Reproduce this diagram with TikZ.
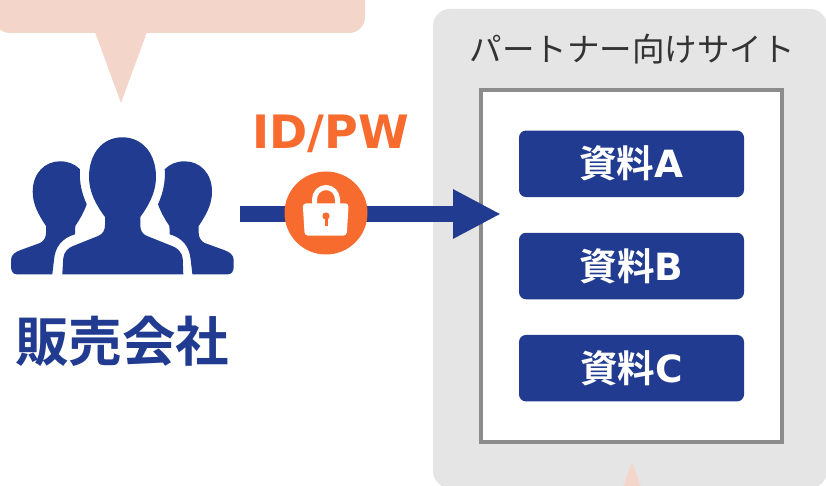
\documentclass[tikz,border=0pt]{standalone}
\usepackage{fontspec}
\setmainfont{Noto Sans CJK JP}
\newfontfamily\jpreg{Noto Sans CJK JP}[Scale=1]
\newfontfamily\jpbold{Noto Sans CJK JP Bold}
\newfontfamily\latbold{DejaVu Sans Bold}
\usetikzlibrary{arrows.meta}
\definecolor{navy}{HTML}{203B8F}
\definecolor{orng}{HTML}{F76B2E}
\definecolor{pnk}{HTML}{F4D5C9}
\definecolor{panel}{HTML}{E5E5E5}
\definecolor{frm}{HTML}{8C8C8C}
\tikzset{
  docbox/.style={fill=navy,rounded corners=7pt,minimum width=225pt,minimum height=66.5pt,inner sep=0pt,text=white,font=\fontsize{37.5}{37.5}\selectfont},
  person/.style={fill=navy},
}
\newcommand{\sideperson}{%
  (52.3,274.3) -- (16.7,274.3) .. controls (13,274.3) and (11,271) .. (11,266.7)
  -- (11,260) .. controls (11,255) and (15,252) .. (20.7,250)
  -- (40,243) .. controls (44,241) and (46,237) .. (46,233)
  -- (46,226) .. controls (38,214) and (32.7,204) .. (32.7,191.7)
  .. controls (32.7,173) and (45,161.3) .. (60,161.3)
  .. controls (68,161.3) and (75,164) .. (80,169.3)
  .. controls (79,182) and (82,194) .. (86.7,204.3)
  .. controls (84,212) and (80,219) .. (75.3,226)
  -- (75,234.3) .. controls (62,238) and (55,247) .. (54,260) -- cycle}
\begin{document}
\begin{tikzpicture}[x=1pt,y=-1pt]
\clip (0,0) rectangle (826,486);
\fill[white] (0,0) rectangle (826,486);
% speech bubble above the people
\fill[pnk,rounded corners=16pt] (-6,-40) rectangle (365,33);
\fill[pnk] (95,32) -- (121,103) -- (147,32) -- cycle;
% site panel
\fill[panel,rounded corners=17pt] (433,9) rectangle (827,488);
\fill[pnk] (632,462) -- (622,490) -- (642,490) -- cycle;
\node[font=\jpreg\fontsize{32.5}{32.5}\selectfont,text=black!80,inner sep=0pt] (title) at (632,49.5) {パートナー向けサイト};
\node[draw=frm,line width=4pt,fill=white,minimum width=301pt,minimum height=352pt,inner sep=0pt] (site) at (631.8,266) {};
\node[docbox] (a) at (631.5,163.8) {\raisebox{-3pt}{\jpbold 資料\latbold A}};
\node[docbox] (b) at (631.5,266) {\raisebox{-3pt}{\jpbold 資料\latbold B}};
\node[docbox] (c) at (631.5,368.2) {\raisebox{-3pt}{\jpbold 資料\latbold C}};
% people
\fill[person] (62.3,274.3) -- (63.3,258) .. controls (64,252) and (68,248) .. (73,246)
  -- (98,236) .. controls (103,234) and (105,230) .. (105,225)
  -- (105,217) .. controls (96,205) and (89,192) .. (89,177)
  .. controls (89,153) and (103,137.3) .. (122.3,137.3)
  .. controls (142,137.3) and (156,153) .. (156,177)
  .. controls (156,192) and (149,205) .. (140.3,217)
  -- (140.3,225) .. controls (140.3,230) and (142,234) .. (147,236)
  -- (172,246) .. controls (178,248) and (182,253) .. (182.7,258)
  -- (183.3,274.3) -- cycle;
\fill[person] \sideperson;
\begin{scope}[xshift=244.7pt,xscale=-1]
\fill[person] \sideperson;
\end{scope}
\node[font=\jpbold\fontsize{53.5}{53.5}\selectfont,text=navy,inner sep=0pt] (people) at (122,341) {販売会社};
% connector
\coordinate (from) at (240,214);
\coordinate (to) at (501,214);
\draw[navy,line width=16pt,-{Triangle[length=48pt,width=46pt]}] (from) -- (to);
% lock
\node[circle,fill=orng,minimum size=83pt,inner sep=0pt] (lockc) at (326,213) {};
\draw[white,line width=5pt] (314.5,205) -- (314.5,199.5) arc[start angle=180,end angle=360,x radius=11.5,y radius=12] -- (337.5,205);
\fill[white,rounded corners=3.5pt] (302.7,203.3) -- (348.7,203.3) -- (346.7,235.7) -- (304.7,235.7) -- cycle;
\fill[orng] (326,216) circle (3.6pt);
\draw[orng,line width=3pt] (326,216) -- (326,226);
\node[font=\latbold\fontsize{46}{46}\selectfont,text=orng,inner sep=0pt] (cred) at (330.5,133.5) {ID/PW};
\end{tikzpicture}
\end{document}
